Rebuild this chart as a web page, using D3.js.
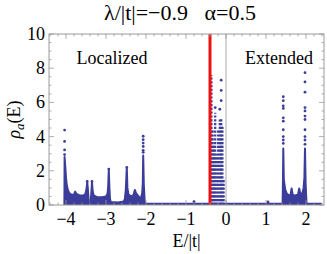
<!DOCTYPE html>
<html><head><meta charset="utf-8">
<script src="https://cdn.jsdelivr.net/npm/d3@7"></script>
<style>
html,body{margin:0;padding:0;background:#fff;}
</style></head>
<body><svg id="c" width="327" height="254"></svg>
<script>
// ---- data ----
const xTicks = [-4, -3, -2, -1, 0, 1, 2];
const yTicks = [0, 2, 4, 6, 8, 10];
const titleText = "λ/|t|=−0.9   α=0.5";
const regionLabels = ["Localized", "Extended"];
const criticalE = -0.4;          // red line
// dense (filled) parts of the density of states: [E, rho]
const locBand1 = [[-4.04,0],[-4.035,2.8],[-4.02,2.3],[-4.0,1.6],[-3.98,1.15],[-3.95,0.85],[-3.91,0.68],[-3.86,0.6],[-3.8,0.62],[-3.77,0.78],[-3.74,0.65],[-3.66,0.56],[-3.58,0.55],[-3.52,0.62],[-3.5,0.8],[-3.48,1.05],[-3.47,1.33],[-3.455,1.0],[-3.44,0.5],[-3.425,0]];
const locBand2 = [[-3.395,0],[-3.37,0.6],[-3.35,1.33],[-3.335,0.85],[-3.31,0.56],[-3.22,0.46],[-3.1,0.45],[-3.0,0.5],[-2.96,0.68],[-2.945,1.1],[-2.93,2.05],[-2.915,1.0],[-2.9,0.35],[-2.88,0.18],[-2.7,0.15],[-2.56,0.2],[-2.53,0.32]];
const locBand3 = [[-2.53,0.32],[-2.505,0.9],[-2.48,2.15],[-2.465,1.0],[-2.44,0.62],[-2.37,0.5],[-2.31,0.6],[-2.28,0.88],[-2.25,0.7],[-2.2,0.55],[-2.15,0.42],[-2.12,0.45],[-2.095,0.7],[-2.08,1.3],[-2.07,2.9],[-2.055,1.2],[-2.035,0.3],[-2.02,0]];
const extBand = [[1.415,0],[1.425,1.6],[1.432,3.3],[1.445,1.5],[1.48,0.9],[1.52,0.66],[1.57,0.58],[1.595,0.25],[1.615,0.6],[1.64,0.97],[1.665,0.6],[1.72,0.55],[1.765,0.58],[1.78,0.25],[1.8,0.6],[1.83,0.97],[1.86,0.62],[1.91,0.7],[1.94,1.0],[1.96,1.6],[1.975,3.3],[1.99,1.3],[2.01,0.2],[2.02,0]];
// vertical clusters of states between the red line and E=0: [E, top]
const midColumns = [[-0.365,7.6],[-0.335,4.4],[-0.305,3.5],[-0.27,5.4],[-0.235,3.0],[-0.195,4.4],[-0.155,5.0],[-0.12,5.1],[-0.09,4.6],[-0.06,1.5]];
// isolated points above the dense parts: [E, rho]
const peakDots = [
  [-4.035,4.38],[-4.035,3.72],[-4.035,3.22],[-4.035,2.95],
  [-3.47,1.38],[-3.35,1.38],[-2.93,2.1],[-2.48,2.2],
  [-2.07,4.02],[-2.07,3.82],[-2.07,3.62],[-2.07,3.42],[-2.07,3.2],[-2.07,3.08],
  [-0.8,0.2],[1.05,0.18],
  [-0.12,7.3],[-0.12,6.7],[-0.12,6.1],[-0.155,5.6],[-0.27,5.7],
  [1.432,6.33],[1.432,6.1],[1.432,5.8],[1.432,5.65],[1.432,5.1],[1.432,4.9],[1.432,4.4],[1.432,4.0],[1.432,3.8],[1.432,3.6],
  [1.975,7.74],[1.975,7.2],[1.975,6.6],[1.975,5.7],[1.975,5.5],[1.975,5.2],[1.975,5.0],[1.975,4.4],[1.975,4.0],[1.975,3.8],[1.975,3.55]
];
const baseline = [[-4.05,0.05],[2.39,0.05]];

// ---- layout ----
const W = 327, H = 254;
const m = {l:49, r:3, t:34, b:49};
const FONT = "'Liberation Serif', 'Times New Roman', Times, 'DejaVu Serif', serif";
const svg = d3.select("#c");
const x = d3.scaleLinear().domain([-4.425, 2.45]).range([m.l, W - m.r]);
const y = d3.scaleLinear().domain([0, 10]).range([H - m.b, m.t]);
const blue = "#3c3c9a", frameCol = "#9a9a9a";

svg.append("defs").append("clipPath").attr("id","clip")
  .append("rect").attr("x",m.l).attr("y",m.t).attr("width",W-m.l-m.r).attr("height",H-m.t-m.b);
const plot = svg.append("g").attr("clip-path","url(#clip)");

// gray line at E = 0
plot.append("line").attr("x1",x(0)).attr("x2",x(0)).attr("y1",y(0)).attr("y2",y(10))
  .attr("stroke","#cfcfcf").attr("stroke-width",1.8);

// baseline of zero-density states
plot.append("path").attr("d", d3.line().x(d=>x(d[0])).y(d=>y(d[1]))(baseline))
  .attr("stroke",blue).attr("stroke-width",2.6).attr("fill","none");

const area = d3.area().x(d=>x(d[0])).y0(y(0)).y1(d=>y(d[1]));
[locBand1, locBand2, locBand3, extBand].forEach(b=>{
  plot.append("path").attr("d",area(b)).attr("fill",blue)
    .attr("stroke",blue).attr("stroke-width",2).attr("stroke-linejoin","round");
});

plot.selectAll("line.col").data(midColumns).join("line").attr("class","col")
  .attr("x1",d=>x(d[0])).attr("x2",d=>x(d[0])).attr("y1",y(0)).attr("y2",d=>y(d[1]))
  .attr("stroke",blue).attr("stroke-width",2.3).attr("stroke-dasharray","2.2,1.6");

plot.selectAll("circle.pk").data(peakDots).join("circle").attr("class","pk")
  .attr("cx",d=>x(d[0])).attr("cy",d=>y(d[1])).attr("r",1.4).attr("fill",blue);

// red critical line
plot.append("line").attr("x1",x(criticalE)).attr("x2",x(criticalE)).attr("y1",y(0)).attr("y2",y(10))
  .attr("stroke","#ee1111").attr("stroke-width",3);

// frame
svg.append("rect").attr("x",m.l).attr("y",m.t).attr("width",W-m.l-m.r).attr("height",H-m.t-m.b)
  .attr("fill","none").attr("stroke",frameCol).attr("stroke-width",1);

// ticks (inward, all four sides)
const fmt = v => v < 0 ? "\u2212" + Math.abs(v) : String(v);
const xMinor = d3.range(-4.4, 2.45, 0.2).filter(v => xTicks.every(t => Math.abs(t - v) > 1e-6));
const yMinor = d3.range(0, 10.01, 0.5).filter(v => yTicks.every(t => Math.abs(t - v) > 1e-6));
const tk = svg.append("g").attr("stroke",frameCol).attr("stroke-width",0.8);
function xt(v, len){
  tk.append("line").attr("x1",x(v)).attr("x2",x(v)).attr("y1",y(0)).attr("y2",y(0)-len);
  tk.append("line").attr("x1",x(v)).attr("x2",x(v)).attr("y1",y(10)).attr("y2",y(10)+len);
}
function yt(v, len){
  tk.append("line").attr("x1",m.l).attr("x2",m.l+len).attr("y1",y(v)).attr("y2",y(v));
  tk.append("line").attr("x1",W-m.r).attr("x2",W-m.r-len).attr("y1",y(v)).attr("y2",y(v));
}
xTicks.forEach(v=>xt(v,5)); xMinor.forEach(v=>xt(v,2.5));
yTicks.forEach(v=>yt(v,5)); yMinor.forEach(v=>yt(v,2.5));

svg.selectAll("text.xl").data(xTicks).join("text").attr("class","xl")
  .attr("x",d=>x(d)).attr("y",y(0)+20).attr("text-anchor","middle")
  .attr("font-family",FONT).attr("font-size",18).text(fmt);
svg.selectAll("text.yl").data(yTicks).join("text").attr("class","yl")
  .attr("x",m.l-4).attr("y",d=>y(d)+6).attr("text-anchor","end")
  .attr("font-family",FONT).attr("font-size",18).text(fmt);

// title and labels
svg.append("text").attr("x",180).attr("y",20).attr("text-anchor","middle")
  .attr("font-family",FONT).attr("font-size",22).style("white-space","pre").text(titleText);
svg.append("text").attr("x",112).attr("y",64).attr("text-anchor","middle")
  .attr("font-family",FONT).attr("font-size",18).text(regionLabels[0]);
svg.append("text").attr("x",279).attr("y",64).attr("text-anchor","middle")
  .attr("font-family",FONT).attr("font-size",18).text(regionLabels[1]);
svg.append("text").attr("x",(m.l+W-m.r)/2).attr("y",247).attr("text-anchor","middle")
  .attr("font-family",FONT).attr("font-size",18).text("E/|t|");
const yl = svg.append("text").attr("transform",`translate(20,${(m.t+H-m.b)/2}) rotate(-90)`)
  .attr("text-anchor","middle").attr("font-family",FONT).attr("font-size",18);
yl.append("tspan").attr("font-style","italic").text("ρ");
yl.append("tspan").attr("font-style","italic").attr("font-size",13).attr("dy",4).text("a");
yl.append("tspan").attr("dy",-4).text("(E)");
</script></body></html>
